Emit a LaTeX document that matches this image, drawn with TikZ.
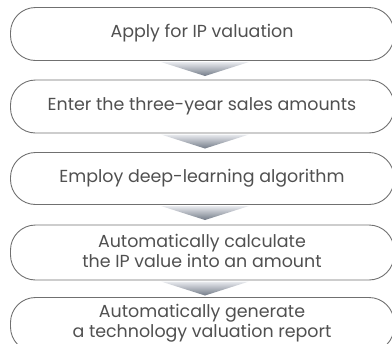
\documentclass[tikz,border=0pt]{standalone}
\usepackage{fontspec}
\setmainfont{Poppins}
\begin{document}
\begin{tikzpicture}[x=1bp,y=-1bp,
  stepbox/.style={draw=linegray,line width=0.9bp,rounded corners=25bp},
  steptext/.style={text=textgray,font=\fontsize{17.5}{20}\selectfont,align=center,inner sep=0pt},
  tri/.style={top color=tritop,bottom color=tribot,draw=none}]
\definecolor{linegray}{HTML}{707070}
\definecolor{textgray}{HTML}{505050}
\definecolor{tritop}{HTML}{E8EAEE}
\definecolor{tribot}{HTML}{737B88}
\useasboundingbox (0,0) rectangle (392,344);
\begin{scope}
\clip (0,0) rectangle (392,344);
\foreach \n/\t/\b in {1/7.5/60.5, 2/80/133, 3/152.5/204.5, 4/225/280, 5/297.5/352}{
  \draw[stepbox] (10.5,\t) rectangle (394,\b);
}
\foreach \t in {62, 134.5, 206, 281.5}{
  \shade[tri] (161,\t) -- (249,\t) -- (205,\t+14) -- cycle;
}
\end{scope}
\node[steptext] (s1) at (202,33) {Apply for IP valuation};
\node[steptext] (s2) at (202,106) {Enter the three-year sales amounts};
\node[steptext] (s3) at (202,178.5) {Employ deep-learning algorithm};
\node[steptext] (s4) at (202,251) {Automatically calculate\\the IP value into an amount};
\node[steptext] (s5) at (202,323) {Automatically generate\\a technology valuation report};
\end{tikzpicture}
\end{document}
